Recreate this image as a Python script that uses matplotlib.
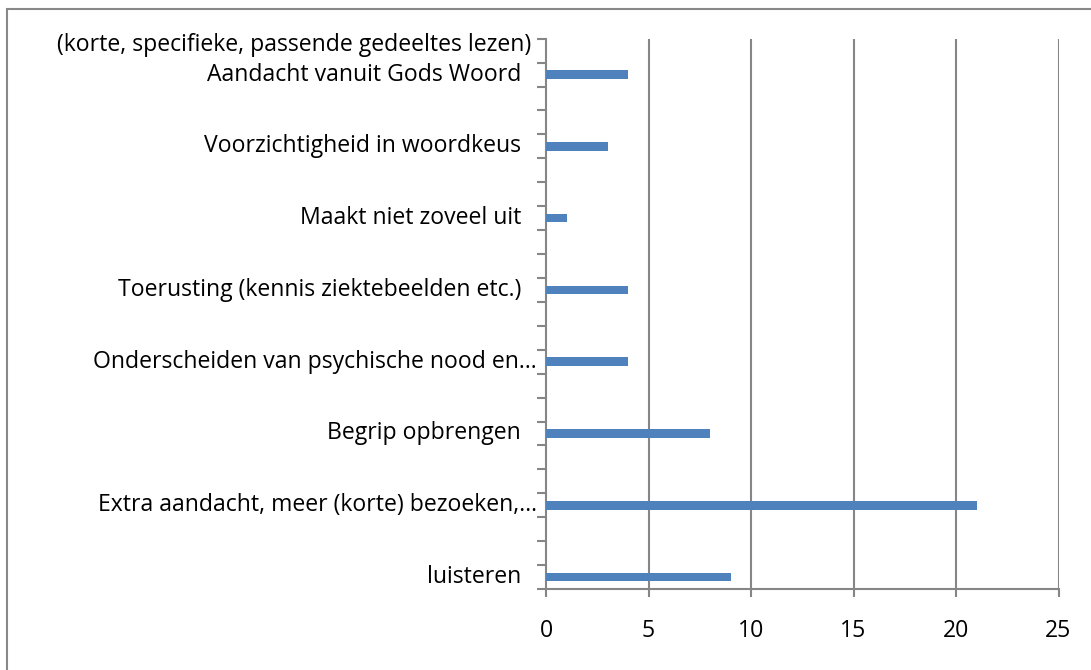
import matplotlib
matplotlib.use("Agg")
import matplotlib.pyplot as plt
from matplotlib.patches import Rectangle
from matplotlib.transforms import offset_copy

categories = [
    "luisteren",
    "Extra aandacht, meer (korte) bezoeken,…",
    "Begrip opbrengen",
    "Onderscheiden van psychische nood en…",
    "Toerusting (kennis ziektebeelden etc.)",
    "Maakt niet zoveel uit",
    "Voorzichtigheid in woordkeus",
    "Aandacht vanuit Gods Woord",
]
values = [9, 21, 8, 4, 4, 1, 3, 4]
top_label = "(korte, specifieke, passende gedeeltes lezen)"
x_ticks = [0, 5, 10, 15, 20, 25]

W, H = 1091, 670
PX = 72 / 100  # points per pixel
fig = plt.figure(figsize=(W / 100, H / 100), dpi=100)
plt.rcParams['font.family'] = ['Open Sans', 'DejaVu Sans']
FS = 16.6

left, right = 546 / W, 1058.5 / W
bottom, top = (H - 589) / H, (H - 38.7) / H
ax = fig.add_axes([left, bottom, right - left, top - bottom])

bar_color = "#4F81BD"
grid_color = "#868686"

n_slots = 3 * len(categories) - 1
positions = [3 * i + 0.5 for i in range(len(categories))]
ax.barh(positions, values, height=0.36, color=bar_color, zorder=3)

ax.set_xlim(0, 25)
ax.set_ylim(0, n_slots)
ax.set_xticks(x_ticks)
ax.set_xticklabels([str(t) for t in x_ticks], fontsize=FS, color="black")
ax.set_yticks(range(n_slots + 1))
ax.set_yticklabels([])
ax.tick_params(axis="x", direction="out", length=8 * PX, width=1.5, color=grid_color, pad=22 * PX)
ax.tick_params(axis="y", direction="out", length=9 * PX, width=1.5, color=grid_color)

for t in x_ticks[1:]:
    ax.axvline(t, color=grid_color, lw=1.5, zorder=1)

for s in ["top", "right"]:
    ax.spines[s].set_visible(False)
for s in ["left", "bottom"]:
    ax.spines[s].set_color(grid_color)
    ax.spines[s].set_linewidth(1.5)

# category labels
for pos, lab in zip(positions, categories):
    off = -9 if lab.endswith("…") else -25
    tr = offset_copy(ax.get_yaxis_transform(), fig=fig, x=off * PX, y=0, units="points")
    ax.text(0, pos, lab, transform=tr, ha="right", va="center", fontsize=FS, color="black")
tr = offset_copy(ax.get_yaxis_transform(), fig=fig, x=-15 * PX, y=0, units="points")
ax.text(0, n_slots - 0.25, top_label, transform=tr, ha="right", va="center", fontsize=FS, color="black")

# outer chart border
fig.patches.append(Rectangle((7 / W, -0.1), 1.2, 1.1 - 9 / H, transform=fig.transFigure,
                             fill=False, edgecolor="#888888", lw=1.5))

fig.savefig("out.png", dpi=100)
